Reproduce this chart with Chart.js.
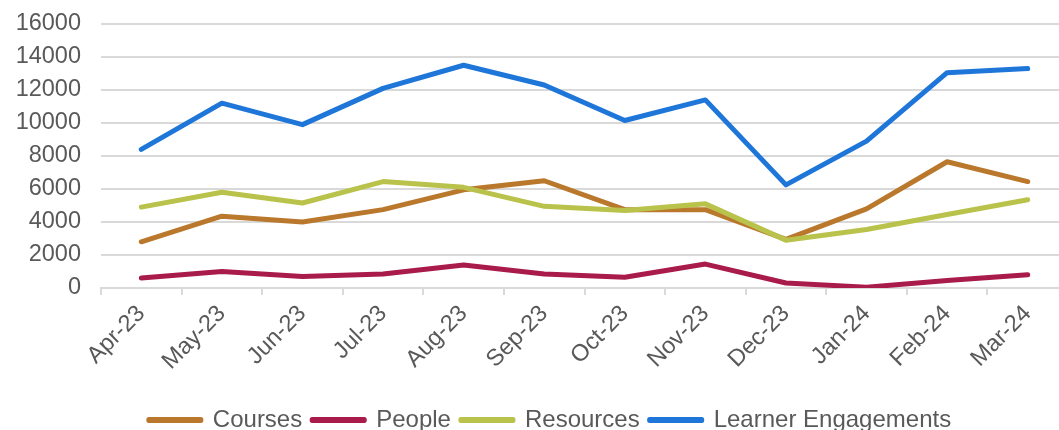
<!DOCTYPE html>
<html>
<head>
<meta charset="utf-8">
<script src="https://cdn.jsdelivr.net/npm/chart.js@4.4.1/dist/chart.umd.min.js"></script>
<style>
  html, body { margin: 0; padding: 0; background: #fff; overflow: hidden; }
  #wrap { width: 1068px; height: 430px; position: relative; }
</style>
</head>
<body>
<div id="wrap"><canvas id="chart"></canvas></div>
<script>
// ===========================
// DATA
// ===========================
const months = ['Apr-23', 'May-23', 'Jun-23', 'Jul-23', 'Aug-23', 'Sep-23',
                'Oct-23', 'Nov-23', 'Dec-23', 'Jan-24', 'Feb-24', 'Mar-24'];
const courses   = [2800, 4350, 4000, 4750, 5950, 6500, 4750, 4750, 2950, 4800, 7650, 6450];
const people    = [600, 1000, 700, 850, 1400, 850, 650, 1450, 300, 50, 450, 800];
const resources = [4900, 5800, 5150, 6450, 6100, 4950, 4700, 5100, 2900, 3550, 4450, 5350];
const learners  = [8400, 11200, 9900, 12100, 13500, 12300, 10150, 11400, 6250, 8900, 13050, 13300];
const yTicks    = [0, 2000, 4000, 6000, 8000, 10000, 12000, 14000, 16000];

const FONT = '"Liberation Sans", Arial, sans-serif';
const TEXT = '#595959';
const GRID = '#d9d9d9';

const line = (label, data, color, order) => ({
  label, data, order,
  borderColor: color,
  backgroundColor: color,
  borderWidth: 5,
  borderCapStyle: 'round',
  borderJoinStyle: 'round',
  pointRadius: 0,
  tension: 0
});

// legend sits a little right of the canvas centre in the original
const legendShift = {
  id: 'legendShift',
  afterLayout(chart) {
    if (chart.legend) chart.legend.left += 32;
  }
};

// ===========================
// CHART
// ===========================
new Chart(document.getElementById('chart').getContext('2d'), {
  type: 'line',
  data: {
    labels: months,
    datasets: [
      line('Courses', courses, '#b9782c', 4),
      line('People', people, '#a91b4b', 3),
      line('Resources', resources, '#b9c24a', 2),
      line('Learner Engagements', learners, '#1f76d9', 1)
    ]
  },
  options: {
    responsive: true,
    maintainAspectRatio: false,
    animation: false,
    layout: { padding: { top: 24, right: 0, bottom: -12, left: 0 } },
    scales: {
      x: {
        offset: true,
        afterFit: s => { s.height = 110; },
        grid: { offset: true, drawOnChartArea: false, color: GRID, lineWidth: 2, tickLength: 7 },
        border: { color: GRID, width: 2 },
        ticks: {
          color: TEXT, font: { size: 23.5, family: FONT },
          minRotation: 45, maxRotation: 45, padding: 5, autoSkip: false
        }
      },
      y: {
        min: 0,
        max: 16000,
        afterBuildTicks: s => { s.ticks = yTicks.map(v => ({ value: v })); },
        afterFit: s => { s.width = 101; s.paddingTop = 0; s.paddingBottom = 0; },
        grid: { color: GRID, lineWidth: 2, drawTicks: false },
        border: { display: false },
        ticks: {
          color: TEXT, font: { size: 23.5, family: FONT }, padding: 20,
          autoSkip: false, callback: v => String(v)
        }
      }
    },
    plugins: {
      legend: {
        position: 'bottom',
        labels: {
          color: TEXT,
          font: { size: 24, family: FONT },
          boxWidth: 52,
          boxHeight: 1,
          padding: 10,
          sort: (a, b) => a.datasetIndex - b.datasetIndex
        }
      },
      tooltip: { enabled: false }
    }
  },
  plugins: [legendShift]
});
</script>
</body>
</html>
